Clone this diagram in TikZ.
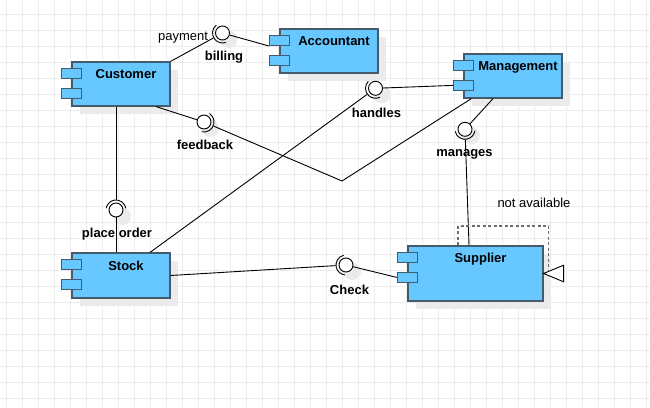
\documentclass[tikz,border=0pt]{standalone}
\usepackage{fontspec}
\setmainfont{Liberation Sans}
\usetikzlibrary{shadows,calc}
\definecolor{compblue}{RGB}{102,200,255}
\definecolor{compedge}{RGB}{69,90,106}
\definecolor{gridgray}{RGB}{237,237,237}
\definecolor{loopgray}{RGB}{110,110,110}
\newcommand{\socket}[2]{\draw[wire] ([shift={(#2-80:10)}]#1.center) arc[start angle=#2-80, end angle=#2+80, radius=10];}
\begin{document}
\begin{tikzpicture}[x=1pt,y=1pt,
        node font=\fontsize{13}{15}\selectfont,
        comp/.style={draw=compedge, line width=1.2pt, fill=compblue, minimum width=98pt, minimum height=44pt, inner sep=0pt,
            drop shadow={shadow xshift=8pt, shadow yshift=-8pt, fill=black!8, opacity=1}},
        compname/.style={anchor=north, inner sep=0pt, xshift=5pt, yshift=-8pt, font=\bfseries},
        port/.style={draw=compedge, line width=1.2pt, fill=compblue, minimum width=20pt, minimum height=10pt, inner sep=0pt},
        ball/.style={circle, draw, line width=0.9pt, fill=white, minimum size=14pt, inner sep=0pt,
            drop shadow={shadow xshift=5pt, shadow yshift=-5pt, shadow scale=1.25, fill=black!8, opacity=1}},
        iname/.style={inner sep=0pt, font=\bfseries},
        wire/.style={line width=0.9pt},
        loopline/.style={draw=loopgray, line width=1.3pt, dash pattern=on 3pt off 2.5pt}]
    \useasboundingbox (0,0) rectangle (650,407);
    \fill [white] (0,0) rectangle (650,407);
    \draw [gridgray, line width=1pt, shift={(6.5,8.5)}] (-6.5,-8.5) grid[step=16] (643.5,398.5);

    \node [comp] (customer) at (121,323) {};
    \node [comp] (accountant) at (329,356) {};
    \node [comp] (management) at (513,331) {};
    \node [comp, minimum height=45pt] (stock) at (121,131.5) {};
    \node [comp, minimum width=135pt, minimum height=55pt] (supplier) at (475.5,133.5) {};
    \node [compname] (customer-name) at (customer.north) {Customer};
    \node [compname] (accountant-name) at (accountant.north) {Accountant};
    \node [compname] (management-name) at (management.north) {Management};
    \node [compname] (stock-name) at (stock.north) {Stock};
    \node [compname, yshift=0.5pt] (supplier-name) at (supplier.north) {Supplier};
    \foreach \c in {customer,accountant,management,stock,supplier} {
        \node [port] (\c-p1) at ([yshift=-12]\c.north west) {};
        \node [port] (\c-p2) at ([yshift=-32]\c.north west) {};
    }

    \node [ball] (billing) at (222.5,374) {};
    \node [iname] (billing-name) at (224,350) {billing};
    \node [inner sep=0pt] (payment) at (183,369.5) {payment};
    \node [ball] (feedback) at (204,285) {};
    \node [iname] (feedback-name) at (205,262) {feedback};
    \node [ball] (handles) at (375.5,318.7) {};
    \node [iname] (handles-name) at (376.5,293.7) {handles};
    \node [ball] (manages) at (465,277.7) {};
    \node [iname] (manages-name) at (464.5,253) {manages};
    \node [ball] (placeorder) at (116,197) {};
    \node [iname] (placeorder-name) at (117,173) {place order};
    \node [ball] (check) at (346,142) {};
    \node [iname] (check-name) at (349.5,117.5) {Check};
    \node [inner sep=0pt] (notavail) at (534,204) {not available};
    \coordinate (bend) at (342,226);

    \draw [wire, shorten >=3pt] (customer.north east) -- (billing);
    \draw [wire] (billing) -- (accountant-p1.south west);
    \draw [wire] ([xshift=35]customer.south) -- (feedback);
    \draw [wire, shorten <=3pt] (feedback) -- (bend) -- ([xshift=8]management.south west);
    \draw [wire, shorten >=3pt] ([xshift=29]stock.north) -- (handles);
    \draw [wire] (handles) -- (management-p2.west);
    \draw [wire] ([xshift=-20]management.south) -- (manages);
    \draw [wire, shorten <=3pt] (manages) -- ([xshift=-6.5]supplier.north);
    \draw [wire, shorten >=3pt] ([xshift=-5]customer.south) -- (placeorder);
    \draw [wire] (placeorder) -- ([xshift=-5]stock.north);
    \draw [wire, shorten >=3pt] (stock.east) -- (check);
    \draw [wire] (check) -- (supplier-p2.west);
    \socket{billing}{208.9}
    \socket{feedback}{336.9}
    \socket{handles}{216.1}
    \socket{manages}{272}
    \socket{placeorder}{90}
    \socket{check}{183.4}

    \draw [loopline] ([xshift=-17.5]supplier.north) -- ++(0,19.5) -| ([xshift=5,yshift=3.5]supplier.east);
    \filldraw [wire, fill=white] (supplier.east) -- ++(20,8.3) -- ++(0,-16.6) -- cycle;
\end{tikzpicture}
\end{document}
